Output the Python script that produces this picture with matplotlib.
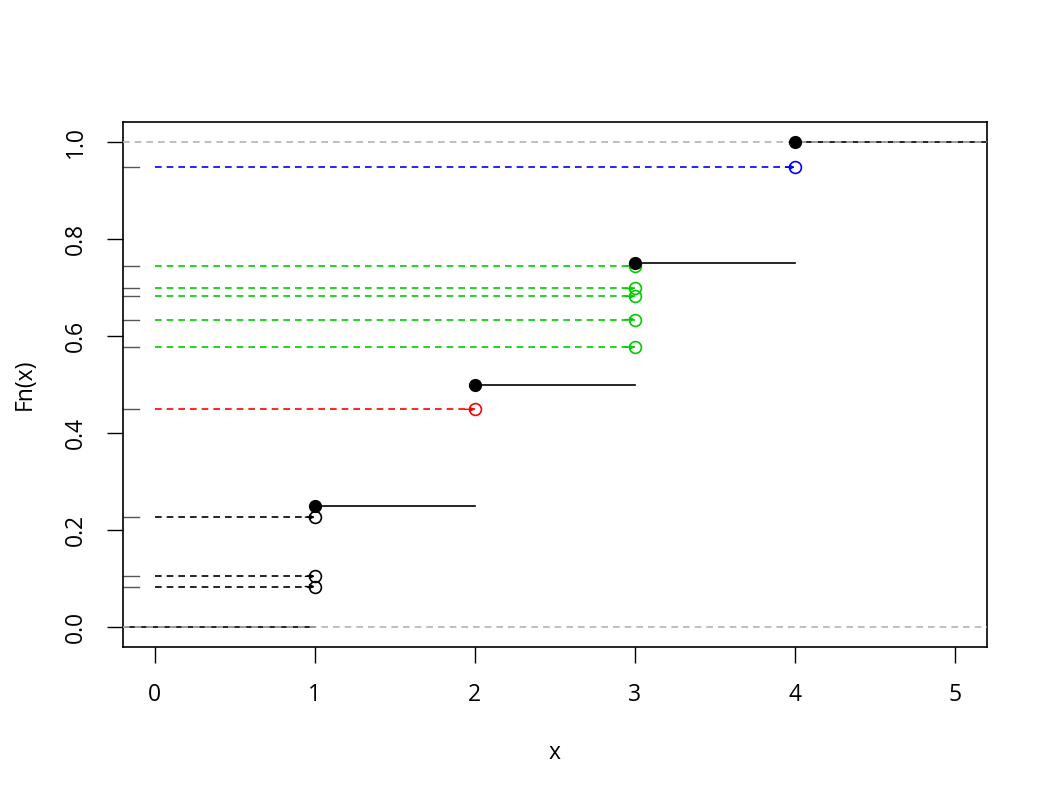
import numpy as np
import matplotlib.pyplot as plt

plt.rcParams['font.family'] = ['Open Sans', 'DejaVu Sans']

# ECDF steps
step_x = [1, 2, 3, 4]
step_y = [0.25, 0.5, 0.75, 1.0]

# sampled uniform values and the quantile they map to
u_vals = [0.084, 0.105, 0.227, 0.449, 0.577, 0.634, 0.682, 0.698, 0.745, 0.948]
q_vals = [1, 1, 1, 2, 3, 3, 3, 3, 3, 4]
colors = {1: 'black', 2: 'red', 3: '#00CD00', 4: 'blue'}

xticks = [0, 1, 2, 3, 4, 5]
yticks = [0.0, 0.2, 0.4, 0.6, 0.8, 1.0]

fig = plt.figure(figsize=(10.5, 8), dpi=100)
ax = fig.add_axes([0.117, 0.191, 0.823, 0.6565])
xmin, xmax = -0.2, 5.2
ax.set_xlim(xmin, xmax)
ax.set_ylim(-0.041, 1.041)

# gray reference lines at 0 and 1
for h in [0, 1]:
    ax.plot([xmin, xmax], [h, h], color='#B3B3B3', lw=1.2, ls=(0, (4, 3)), zorder=3)

# step function horizontals
xs = [xmin] + step_x + [xmax]
ys = [0.0] + step_y
for i in range(len(ys)):
    ax.plot([xs[i], xs[i + 1]], [ys[i], ys[i]], color='black', lw=1.2, zorder=2)
ax.plot(step_x, step_y, 'o', color='black', ms=8.5, zorder=5)

# dashed arrows from the y axis to the quantile
for u, q in zip(u_vals, q_vals):
    c = colors[q]
    ax.plot([0, q], [u, u], color=c, lw=1.2, ls=(0, (4, 3)), zorder=3)
    ax.annotate('', xy=(q, u), xytext=(q - 0.06, u),
                arrowprops=dict(arrowstyle='->', color=c, lw=1, shrinkA=0, shrinkB=0,
                                mutation_scale=7), zorder=4)
    ax.plot(q, u, 'o', mfc='none', mec=c, mew=1.2, ms=8.5, zorder=4)
    # rug tick on the left
    ax.plot([xmin, -0.1], [u, u], color='#555555', lw=1, zorder=2)

ax.set_xticks(xticks)
ax.set_xticklabels([str(t) for t in xticks])
ax.set_yticks(yticks)
ax.set_yticklabels(['%.1f' % t for t in yticks], rotation=90, va='center')
ax.tick_params(direction='out', length=11.5, width=1, labelsize=16.5, pad=14)
for s in ax.spines.values():
    s.set_linewidth(1.2)

ax.set_xlabel('x', fontsize=16.5, va='center')
ax.xaxis.set_label_coords(0.5, -0.202)
ax.set_ylabel('Fn(x)', fontsize=16.5, va='center')
ax.yaxis.set_label_coords(-0.1134, 0.5)

fig.savefig('out.png', dpi=100)
